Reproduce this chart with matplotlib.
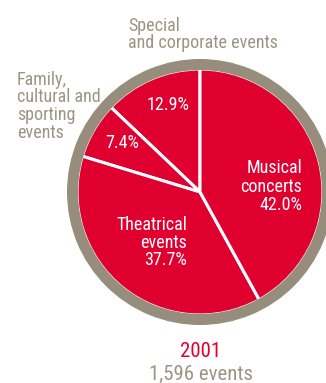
import matplotlib.pyplot as plt
from matplotlib.patches import Wedge

# data
categories = ["Special\nand corporate events", "Family,\ncultural and\nsporting\nevents",
              "Theatrical\nevents", "Musical\nconcerts"]
shares = [12.9, 7.4, 37.7, 42.0]
year = "2001"
total_label = "1,596 events"

RED = "#E0002F"
RING = "#968D7C"
TEXT_GRAY = "#9C9584"

plt.rcParams['font.family'] = ['Roboto Condensed', 'DejaVu Sans']

fig = plt.figure(figsize=(3.26, 3.83), dpi=100)
ax = fig.add_axes([0, 0, 1, 1])

cx, cy = 200, 192
# y axis is flipped (pixel coords), so clockwise in data = counterclockwise on screen
ax.pie(shares, colors=[RED] * len(shares), startangle=-90, counterclock=False,
       radius=123, center=(cx, cy),
       wedgeprops=dict(edgecolor="white", linewidth=2.2))
ax.add_patch(Wedge((cx, cy), 133, 0, 360, width=11, facecolor=RING,
                   edgecolor="none", zorder=5))

ax.set_xlim(0, 326)
ax.set_ylim(383, 0)
ax.set_aspect('auto')
ax.axis('off')


def lines(x, y0, text, step, **kw):
    # one text per line so baselines sit where the reference has them
    for i, ln in enumerate(text.split("\n")):
        ax.text(x, y0 + i * step, ln, va='baseline', fontsize=13, **kw)


# outside labels
lines(128, 31, categories[0], 17.5, ha='left', color=TEXT_GRAY)
lines(17, 85, categories[1], 17.5, ha='left', color=TEXT_GRAY)

# labels inside wedges
lines(168, 110, f"{shares[0]:.1f}%", 17.5, ha='center', color='white', zorder=6)
lines(122, 148, f"{shares[1]:.1f}%", 17.5, ha='center', color='white', zorder=6)
lines(187, 230, categories[2] + f"\n{shares[2]:.1f}%", 17.7, ha='right',
      color='white', zorder=6)
lines(302, 173, categories[3] + f"\n{shares[3]:.1f}%", 18.5, ha='right',
      color='white', zorder=6)

# year and total below
ax.text(201, 357, year, ha='center', va='baseline', fontsize=15, color=RED)
ax.text(201, 380, total_label, ha='center', va='baseline', fontsize=15, color=TEXT_GRAY)

fig.savefig("out.png", dpi=100)
